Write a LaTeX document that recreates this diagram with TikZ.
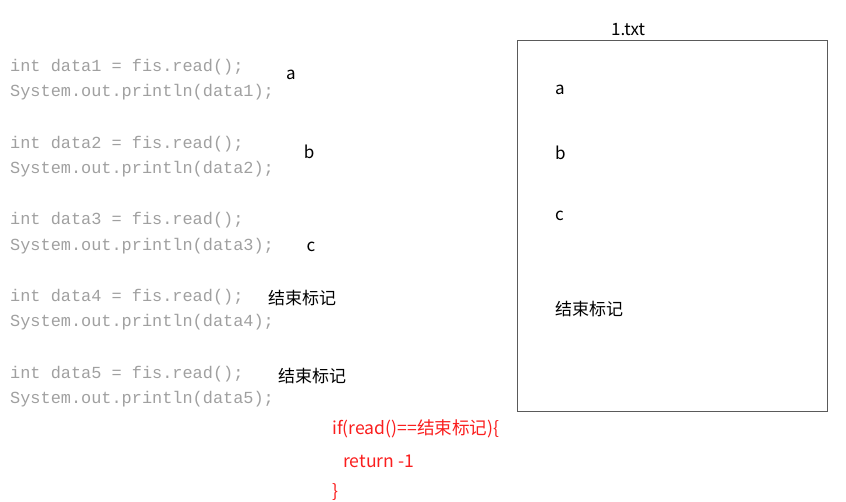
\documentclass[tikz,border=0pt]{standalone}
\usepackage{fontspec}
\setmainfont{Noto Sans CJK SC}
\newfontfamily\codefont{Liberation Mono}
\usetikzlibrary{positioning}
\definecolor{codecolor}{RGB}{160,160,160}
\definecolor{boxcolor}{RGB}{90,90,90}
\definecolor{markcolor}{RGB}{250,30,30}

\begin{document}
\begin{tikzpicture}[
    x=1pt, y=-1pt,
    code/.style={anchor=west, inner sep=0pt, text=codecolor, font=\codefont\fontsize{16.9}{18}\selectfont},
    label/.style={inner sep=0pt, font=\fontsize{17}{20}\selectfont},
    redline/.style={anchor=west, inner sep=0pt, text=markcolor, font=\fontsize{17.6}{20}\selectfont}
]
    \useasboundingbox (0,0) rectangle (846,502);

    % Code lines
    \node[code] (read1) at (10,67) {int data1 = fis.read();};
    \node[code] (print1) at (10,92) {System.out.println(data1);};
    \node[code] (read2) at (10,144) {int data2 = fis.read();};
    \node[code] (print2) at (10,169) {System.out.println(data2);};
    \node[code] (read3) at (10,220) {int data3 = fis.read();};
    \node[code] (print3) at (10,246) {System.out.println(data3);};
    \node[code] (read4) at (10,297) {int data4 = fis.read();};
    \node[code] (print4) at (10,322) {System.out.println(data4);};
    \node[code] (read5) at (10,374) {int data5 = fis.read();};
    \node[code] (print5) at (10,399) {System.out.println(data5);};

    % Values read
    \node[label] (vala) at (291,75) {a};
    \node[label] (valb) at (309,152) {b};
    \node[label] (valc) at (311,247) {c};
    \node[label] (valend1) at (302,298) {结束标记};
    \node[label] (valend2) at (312,376) {结束标记};

    % File
    \draw[boxcolor, thick] (517,40) rectangle (827,411);
    \node[label] (filename) at (628,30) {1.txt};
    \node[label, anchor=west] (filea) at (555,90) {a};
    \node[label, anchor=west] (fileb) at (555,153) {b};
    \node[label, anchor=west] (filec) at (555,216) {c};
    \node[label, anchor=west] (fileend) at (555,309) {结束标记};

    % End check
    \node[redline] (check) at (332,429) {if(read()==结束标记)\{};
    \node[redline] (ret) at (343,461) {return -1};
    \node[redline] (close) at (332,492) {\}};
\end{tikzpicture}
\end{document}
